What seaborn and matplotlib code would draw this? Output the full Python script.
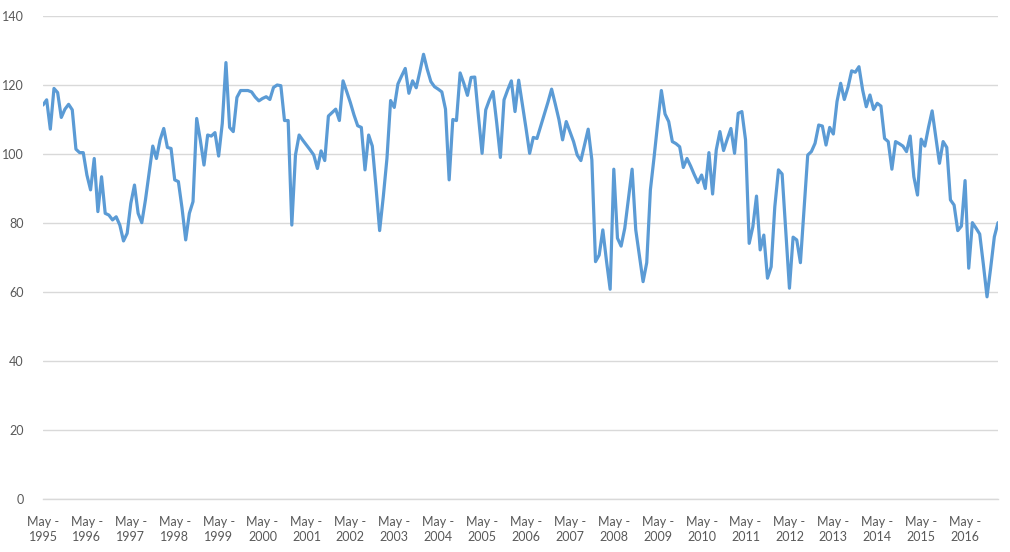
import numpy as np
import pandas as pd
import matplotlib
matplotlib.use("Agg")
import matplotlib.pyplot as plt
import seaborn as sns

# Monthly values, May 1995 .. Feb 2017
values = [
    114.2, 115.7, 107.2, 119.0, 117.8, 110.6, 113.0, 114.4, 112.8, 101.4, 100.4, 100.4,
    93.9, 89.6, 98.7, 83.3, 93.4, 82.8, 82.3, 80.9, 81.8, 79.4, 74.8, 77.0,
    85.7, 91.0, 82.8, 80.1, 86.7, 94.4, 102.3, 98.7, 104.1, 107.4, 101.9, 101.6,
    92.5, 92.0, 84.3, 75.1, 82.8, 86.2, 110.3, 104.0, 96.8, 105.5, 105.2, 106.2,
    99.4, 108.9, 126.5, 107.7, 106.5, 116.4, 118.4, 118.4, 118.4, 118.0, 116.5, 115.4,
    116.1, 116.6, 115.8, 119.3, 120.0, 119.8, 109.7, 109.7, 79.4, 99.7, 105.5, 104.0,
    102.6, 101.2, 99.7, 95.8, 100.9, 98.1, 111.0, 112.0, 113.0, 109.7, 121.2, 118.1,
    114.9, 111.3, 108.2, 107.7, 95.4, 105.5, 102.3, 90.5, 77.8, 87.6, 98.7, 115.5,
    113.5, 120.3, 122.6, 124.8, 117.6, 121.2, 119.2, 123.9, 128.9, 124.6, 121.0, 119.5,
    118.8, 118.0, 113.0, 92.5, 110.0, 109.7, 123.5, 120.5, 117.0, 122.2, 122.3, 111.0,
    100.2, 112.8, 115.7, 118.1, 109.0, 99.0, 115.7, 118.6, 121.2, 112.3, 121.4, 114.5,
    107.5, 100.2, 104.8, 104.5, 108.0, 111.5, 115.0, 118.8, 114.5, 110.0, 104.1, 109.4,
    106.5, 103.6, 99.7, 98.1, 102.6, 107.2, 98.3, 68.8, 70.7, 78.0, 69.0, 60.8,
    95.6, 75.6, 73.3, 78.5, 87.0, 95.6, 78.0, 70.5, 63.0, 68.5, 89.6, 99.0,
    109.0, 118.4, 111.6, 109.4, 103.6, 103.0, 102.1, 96.1, 98.7, 96.5, 94.0, 91.7,
    93.9, 90.0, 100.4, 88.4, 101.2, 106.5, 101.0, 104.3, 107.4, 100.2, 111.8, 112.3,
    104.1, 74.1, 78.9, 87.8, 72.2, 76.5, 64.0, 67.3, 84.7, 95.4, 94.2, 77.6,
    61.1, 75.9, 75.1, 68.5, 84.0, 99.7, 100.7, 103.1, 108.4, 108.1, 102.6, 107.7,
    105.8, 115.2, 120.5, 115.8, 119.3, 124.1, 123.7, 125.3, 118.6, 113.7, 117.1, 112.9,
    114.7, 113.9, 104.5, 103.6, 95.6, 103.6, 103.0, 102.3, 100.7, 105.2, 93.4, 88.1,
    104.3, 102.3, 107.7, 112.5, 105.0, 97.3, 103.6, 101.9, 86.7, 85.2, 77.8, 79.1,
    92.3, 66.9, 80.1, 78.5, 76.8, 68.0, 58.6, 67.0, 76.0, 80.1,
]

tick_years = list(range(1995, 2017))
tick_labels = [f"May -\n{y}" for y in tick_years]
y_ticks = [0, 20, 40, 60, 80, 100, 120, 140]

months = pd.date_range("1995-05-01", periods=len(values), freq="MS")
df = pd.DataFrame({"idx": np.arange(len(values)), "value": values, "date": months})

sns.set_style("white")
plt.rcParams["font.family"] = ["Lato", "DejaVu Sans"]

fig = plt.figure(figsize=(10.1, 5.52), dpi=100)
ax = fig.add_axes([43 / 1010, 1 - 499 / 552, (998 - 43) / 1010, (499 - 16) / 552])

sns.lineplot(data=df, x="idx", y="value", ax=ax, color="#5B9BD5", linewidth=2.3)

ax.set_xlim(0, len(values) - 1)
ax.set_ylim(0, 140)
ax.set_yticks(y_ticks)
ax.set_yticklabels([str(v) for v in y_ticks])
ax.set_xticks([12 * k for k in range(len(tick_years))])
ax.set_xticklabels(tick_labels)
ax.set_xlabel("")
ax.set_ylabel("")

ax.grid(axis="y", color="#D9D9D9", linewidth=1.0)
ax.set_axisbelow(True)
for s in ["left", "right", "top"]:
    ax.spines[s].set_visible(False)
ax.spines["bottom"].set_color("#D9D9D9")
ax.spines["bottom"].set_linewidth(1.0)

ax.tick_params(axis="y", length=0, pad=14, labelsize=9, labelcolor="#595959")
ax.tick_params(axis="x", length=4, width=1, color="#D9D9D9", pad=8,
               labelsize=9, labelcolor="#595959", direction="out")
for lab in ax.get_xticklabels():
    lab.set_linespacing(1.3)

fig.savefig("out.png", dpi=100)
